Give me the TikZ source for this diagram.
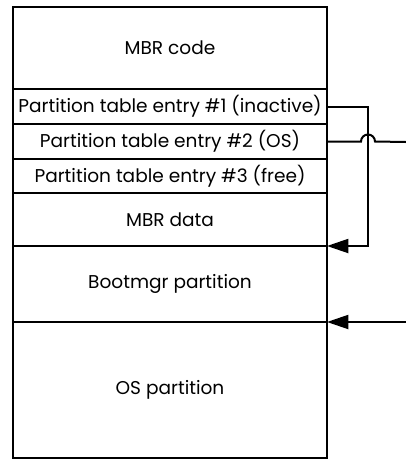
\documentclass[tikz,border=0pt]{standalone}
\usepackage{fontspec}
\setmainfont{Poppins}
\usetikzlibrary{positioning,arrows.meta}
\tikzset{
  row/.style={draw, line width=2pt, outer sep=0pt, minimum width=235.5pt, inner sep=0pt, font=\fontsize{13.9}{16}\selectfont},
  link/.style={line width=1.5pt},
  ptr/.style={link, -{Triangle[length=16pt,width=10.5pt]}}
}
\begin{document}
\begin{tikzpicture}[x=0.75pt,y=0.75pt,yscale=-1,xscale=1]
\useasboundingbox (0,0) rectangle (406,465);
\node[row, minimum height=61.5pt, anchor=north west] (code) at (13,7) {MBR code};
\node[row, minimum height=26.25pt, below=0pt of code] (entA) {Partition table entry \#1 (inactive)};
\node[row, minimum height=26.25pt, below=0pt of entA] (entB) {Partition table entry \#2 (OS)};
\node[row, minimum height=25.5pt, below=0pt of entB] (entC) {Partition table entry \#3 (free)};
\node[row, minimum height=39.75pt, below=0pt of entC] (data) {MBR data};
\node[row, minimum height=57pt, below=0pt of data] (boot) {Bootmgr partition};
\node[row, minimum height=102pt, below=0pt of boot] (os) {OS partition};
\coordinate (osin) at (406,322);
\coordinate (osout) at (406,142);
% entry #1 points at the Bootmgr partition
\draw[ptr] (entA.east) -- ++(41,0) |- (boot.north east);
% entry #2 points at the OS partition
\draw[link] (entB.east) -- ++(34,0) arc[start angle=180, end angle=360, radius=7] -- (osout);
\draw[ptr] (osin) -- (os.north east);
\end{tikzpicture}
\end{document}
